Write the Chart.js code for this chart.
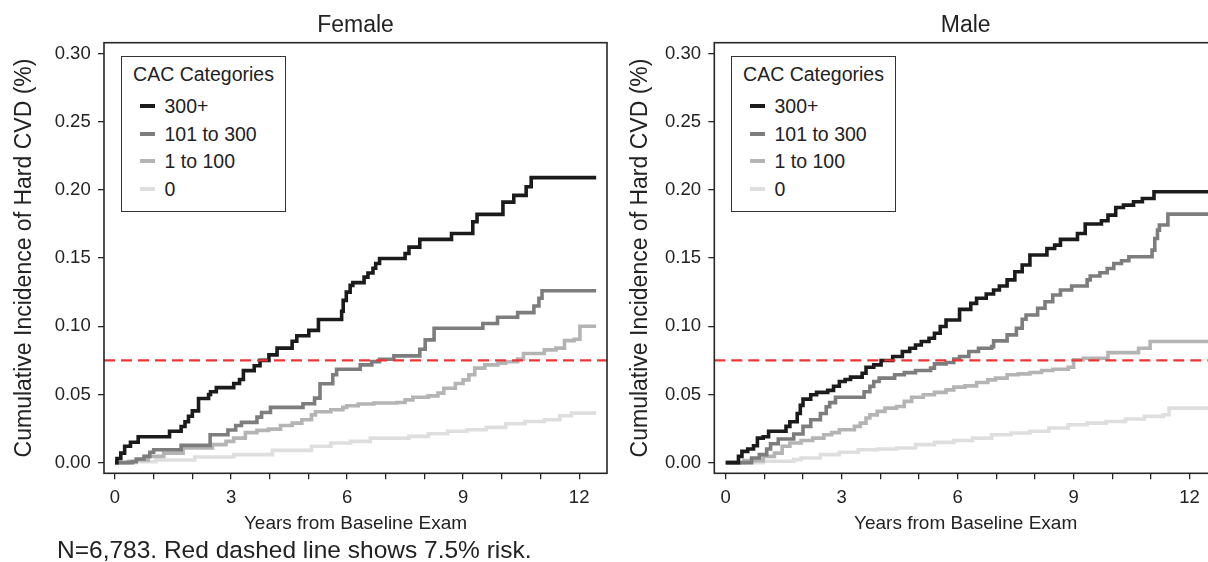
<!DOCTYPE html>
<html>
<head>
<meta charset="utf-8">
<title>Cumulative Incidence of Hard CVD by CAC category</title>
<script src="https://cdn.jsdelivr.net/npm/chart.js@4.4.1/dist/chart.umd.min.js"></script>
<style>
  html, body { margin: 0; padding: 0; background: #fff; width: 1208px; height: 562px; overflow: hidden; }
  body { position: relative; font-family: "Liberation Sans", Arial, Helvetica, sans-serif; color: #222; }
  .panel { position: absolute; top: 0; width: 610px; height: 562px; }
  #femalePanel { left: 0; }
  #malePanel { left: 610px; }
  .legend { position: absolute; left: 121px; top: 56px; width: 165px; height: 156px; box-sizing: border-box;
            border: 1.5px solid #333; background: #fff; font-size: 19.5px; }
  .legend .ttl { position: absolute; left: 0; right: 0; top: 2.5px; line-height: 28px; text-align: center; }
  .legend .row { position: absolute; left: 0; right: 0; height: 28px; line-height: 28px; white-space: nowrap; }
  .legend .swatch { position: absolute; left: 17.5px; top: 12px; width: 15px; height: 4px; }
  .legend .lbl { position: absolute; left: 42.5px; }
  .note { position: absolute; left: 57px; top: 538.3px; font-size: 24.5px; line-height: 24.5px; white-space: nowrap; }
</style>
</head>
<body>
<div class="panel" id="femalePanel"><canvas id="femaleChart" width="610" height="562"></canvas></div>
<div class="panel" id="malePanel"><canvas id="maleChart" width="610" height="562"></canvas></div>
<div class="note">N=6,783. Red dashed line shows 7.5% risk.</div>

<script>
// ---- data: [years, cumulative incidence] at each step ----
const categories = ['300+', '101 to 300', '1 to 100', '0'];
const panelTitles = ['Female', 'Male'];
const xTickValues = [0, 1, 2, 3, 4, 5, 6, 7, 8, 9, 10, 11, 12];
const xLabelEvery = 3;
const yTickValues = [0, 0.05, 0.10, 0.15, 0.20, 0.25, 0.30];
const riskLine = 0.075;

const female300 = [
  [0, 0], [0.05, 0.003], [0.15, 0.007], [0.25, 0.012], [0.4, 0.015], [0.6, 0.019],
  [1.41, 0.023], [1.71, 0.0265], [1.81, 0.030], [1.9, 0.034], [2.0, 0.038], [2.16, 0.047],
  [2.42, 0.050], [2.47, 0.052], [2.62, 0.055], [3.07, 0.058], [3.22, 0.061], [3.32, 0.0675],
  [3.6, 0.071], [3.75, 0.075], [3.98, 0.079], [4.19, 0.084], [4.58, 0.089], [4.7, 0.093],
  [5.01, 0.097], [5.26, 0.105], [5.86, 0.111], [5.9, 0.119], [5.98, 0.125], [6.08, 0.130],
  [6.15, 0.132], [6.44, 0.136], [6.54, 0.139], [6.67, 0.1425], [6.74, 0.146], [6.84, 0.1497],
  [7.5, 0.1534], [7.6, 0.158], [7.88, 0.1637], [8.7, 0.168], [9.25, 0.1766], [9.36, 0.182],
  [10.03, 0.191], [10.31, 0.196], [10.63, 0.2023], [10.76, 0.209], [12.44, 0.209]
];
const female101 = [
  [0, 0], [0.45, 0.0007], [0.55, 0.0027], [0.75, 0.0046], [0.9, 0.0076], [1.0, 0.0095],
  [1.71, 0.0127], [2.46, 0.0205], [2.92, 0.024], [3.12, 0.0273], [3.27, 0.0295], [3.67, 0.0334],
  [3.79, 0.0368], [4.02, 0.0405], [4.86, 0.0432], [5.16, 0.0473], [5.3, 0.0578], [5.63, 0.0644],
  [5.73, 0.0685], [6.34, 0.0717], [6.64, 0.0741], [6.84, 0.0758], [7.21, 0.0783], [7.88, 0.0832],
  [8.02, 0.090], [8.25, 0.0985], [9.51, 0.102], [9.89, 0.1066], [10.41, 0.110], [10.83, 0.1149],
  [10.96, 0.1205], [11.04, 0.126], [12.44, 0.126]
];
const female1 = [
  [0, 0], [0.35, 0.001], [0.55, 0.002], [0.86, 0.0046], [1.26, 0.007], [1.76, 0.0107],
  [2.52, 0.0132], [2.87, 0.0156], [3.07, 0.018], [3.37, 0.022], [3.67, 0.0237], [3.97, 0.0246],
  [4.28, 0.0273], [4.58, 0.029], [4.83, 0.0315], [5.08, 0.035], [5.18, 0.0373], [5.58, 0.0388],
  [5.89, 0.0405], [5.99, 0.0417], [6.29, 0.043], [6.69, 0.0437], [7.29, 0.0441], [7.5, 0.046],
  [7.7, 0.048], [8.1, 0.049], [8.35, 0.051], [8.5, 0.0546], [8.8, 0.058], [9.0, 0.0607],
  [9.15, 0.0644], [9.3, 0.0693], [9.56, 0.0717], [9.9, 0.073], [10.1, 0.074], [10.41, 0.0759],
  [10.56, 0.080], [11.1, 0.0827], [11.4, 0.084], [11.62, 0.0895], [11.87, 0.0905], [12.02, 0.100],
  [12.44, 0.100]
];
const female0 = [
  [0, 0], [0.55, 0.0007], [1.06, 0.002], [2.06, 0.0041], [3.07, 0.0059], [4.07, 0.009],
  [5.08, 0.012], [5.58, 0.0144], [6.09, 0.0156], [6.6, 0.018], [7.6, 0.0193], [8.1, 0.0212],
  [8.6, 0.023], [9.1, 0.0241], [9.6, 0.0259], [10.1, 0.0285], [10.6, 0.0302], [11.1, 0.0315],
  [11.5, 0.0344], [11.8, 0.0363], [12.44, 0.0363]
];

const male300 = [
  [0, 0], [0.33, 0.0046], [0.42, 0.0083], [0.57, 0.010], [0.72, 0.0124], [0.82, 0.018],
  [0.97, 0.019], [1.11, 0.023], [1.56, 0.0266], [1.66, 0.030], [1.85, 0.036], [1.93, 0.042],
  [2.0, 0.0466], [2.2, 0.0498], [2.35, 0.0515], [2.64, 0.053], [2.79, 0.056], [2.94, 0.0595],
  [3.09, 0.061], [3.23, 0.0627], [3.53, 0.0656], [3.63, 0.070], [3.83, 0.0717], [4.02, 0.0749],
  [4.32, 0.0778], [4.57, 0.0815], [4.76, 0.0839], [4.91, 0.0863], [5.06, 0.0888], [5.26, 0.0912],
  [5.4, 0.0949], [5.55, 0.0998], [5.7, 0.1046], [6.05, 0.1124], [6.34, 0.1168], [6.49, 0.1205],
  [6.74, 0.1237], [6.93, 0.1266], [7.08, 0.1295], [7.28, 0.134], [7.48, 0.140], [7.67, 0.1449],
  [7.87, 0.1522], [8.31, 0.157], [8.51, 0.1595], [8.66, 0.1637], [9.1, 0.168], [9.3, 0.175],
  [9.72, 0.1774], [9.89, 0.1815], [10.09, 0.1871], [10.29, 0.1888], [10.55, 0.1913],
  [10.78, 0.1937], [11.08, 0.1986], [12.5, 0.1986]
];
const male101 = [
  [0, 0], [0.67, 0.0034], [0.87, 0.0059], [1.06, 0.010], [1.16, 0.0139], [1.36, 0.0173],
  [1.76, 0.021], [2.0, 0.0266], [2.2, 0.0315], [2.45, 0.036], [2.6, 0.041], [2.69, 0.044],
  [2.84, 0.048], [3.58, 0.052], [3.73, 0.0559], [3.83, 0.0595], [3.97, 0.062], [4.37, 0.0644],
  [4.62, 0.066], [4.91, 0.0676], [5.3, 0.0693], [5.4, 0.0724], [5.7, 0.0734], [5.9, 0.0759],
  [6.05, 0.0778], [6.29, 0.0815], [6.54, 0.0839], [6.88, 0.0851], [6.93, 0.0893], [7.28, 0.0937],
  [7.52, 0.0985], [7.67, 0.1051], [7.77, 0.1083], [8.07, 0.1132], [8.26, 0.118], [8.46, 0.1229],
  [8.66, 0.1266], [8.95, 0.1295], [9.35, 0.134], [9.43, 0.1368], [9.68, 0.1392], [9.87, 0.1424],
  [10.04, 0.146], [10.24, 0.148], [10.43, 0.151], [11.03, 0.1558], [11.1, 0.1644], [11.17, 0.1705],
  [11.22, 0.1742], [11.44, 0.1822], [12.5, 0.1822]
];
const male1 = [
  [0, 0], [0.47, 0.0015], [0.97, 0.0046], [1.26, 0.007], [1.46, 0.012], [1.66, 0.0144],
  [1.95, 0.0163], [2.25, 0.018], [2.54, 0.0205], [2.74, 0.022], [2.94, 0.0241], [3.33, 0.0266],
  [3.48, 0.029], [3.63, 0.0327], [3.73, 0.035], [3.92, 0.0376], [4.12, 0.040], [4.42, 0.0412],
  [4.62, 0.0449], [4.81, 0.048], [5.11, 0.0498], [5.4, 0.0515], [5.7, 0.0534], [5.9, 0.0554],
  [6.19, 0.0563], [6.49, 0.0588], [6.78, 0.0607], [6.98, 0.062], [7.28, 0.0644], [7.57, 0.0651],
  [7.87, 0.0661], [8.17, 0.0676], [8.46, 0.0685], [8.86, 0.070], [9.0, 0.0754], [9.25, 0.0766],
  [9.89, 0.0807], [10.68, 0.0839], [10.98, 0.0888], [12.5, 0.0888]
];
const male0 = [
  [0, 0], [0.97, 0.001], [1.76, 0.0022], [1.95, 0.0034], [2.45, 0.0059], [2.94, 0.0076],
  [3.43, 0.0095], [3.92, 0.010], [4.42, 0.0107], [4.91, 0.0132], [5.4, 0.0149], [5.9, 0.0163],
  [6.39, 0.018], [6.88, 0.0205], [7.38, 0.0217], [7.87, 0.023], [8.36, 0.0254], [8.86, 0.0278],
  [9.35, 0.029], [9.84, 0.0302], [10.34, 0.032], [10.83, 0.0339], [11.32, 0.0351], [11.47, 0.040],
  [12.5, 0.040]
];

const femaleSeries = [female300, female101, female1, female0];
const maleSeries = [male300, male101, male1, male0];

// ---- styling ----
const lineColors = ['#1b1b1b', '#7d7d7d', '#b4b4b4', '#dedede'];
const riskColor = 'rgb(238, 52, 52)';
const inkColor = '#262626';
const fontFamily = '"Liberation Sans", Arial, Helvetica, sans-serif';

Chart.defaults.font.family = fontFamily;
Chart.defaults.color = '#222';

// box drawn around the plotting region, R style
const framePlugin = {
  id: 'frame',
  afterDatasetsDraw(chart) {
    const { ctx, chartArea: a } = chart;
    ctx.save();
    ctx.strokeStyle = inkColor;
    ctx.lineWidth = 1.6;
    ctx.strokeRect(a.left, a.top, a.right - a.left, a.bottom - a.top);
    ctx.restore();
  }
};

function buildLegend(panelId) {
  const box = document.createElement('div');
  box.className = 'legend';
  const ttl = document.createElement('div');
  ttl.className = 'ttl';
  ttl.textContent = 'CAC Categories';
  box.appendChild(ttl);
  const rowTops = [34.5, 62.5, 89.5, 117.5];
  categories.forEach((cat, i) => {
    const row = document.createElement('div');
    row.className = 'row';
    row.style.top = rowTops[i] + 'px';
    const sw = document.createElement('span');
    sw.className = 'swatch';
    sw.style.background = lineColors[i];
    const lbl = document.createElement('span');
    lbl.className = 'lbl';
    lbl.textContent = cat;
    row.appendChild(sw);
    row.appendChild(lbl);
    box.appendChild(row);
  });
  document.getElementById(panelId).appendChild(box);
}

function makePanel(canvasId, title, series, cfg) {
  const datasets = series.map((pts, i) => ({
    label: categories[i],
    data: pts.map(p => ({ x: p[0], y: p[1] })),
    borderColor: lineColors[i],
    borderWidth: 3.6,
    stepped: 'before',
    pointRadius: 0,
    fill: false,
    borderJoinStyle: 'miter',
    borderCapStyle: 'butt',
    order: i + 1
  }));
  datasets.push({
    label: '7.5% risk',
    data: [{ x: cfg.xMin, y: riskLine }, { x: cfg.xMax, y: riskLine }],
    borderColor: riskColor,
    borderWidth: 2.4,
    borderDash: [11, 6],
    pointRadius: 0,
    fill: false,
    order: 0
  });

  return new Chart(document.getElementById(canvasId).getContext('2d'), {
    type: 'line',
    data: { datasets },
    options: {
      responsive: false,
      animation: false,
      events: [],
      layout: { padding: { left: 0, right: 3, top: 0, bottom: 0 } },
      plugins: { legend: { display: false }, tooltip: { enabled: false }, title: { display: false } },
      scales: {
        x: {
          type: 'linear',
          position: 'bottom',
          min: cfg.xMin,
          max: cfg.xMax,
          afterBuildTicks: axis => { axis.ticks = xTickValues.map(v => ({ value: v })); },
          afterFit: axis => { axis.height = 562 - 473.3; },
          ticks: {
            autoSkip: false,
            maxRotation: 0,
            padding: 8,
            font: { size: 18.5 },
            color: '#222',
            callback: v => (v % xLabelEvery === 0 ? String(v) : '')
          },
          grid: { drawOnChartArea: false, drawTicks: true, tickLength: 6, color: inkColor, lineWidth: 1.3 },
          border: { display: false },
          title: {
            display: true,
            text: 'Years from Baseline Exam',
            font: { size: 19 },
            color: '#222',
            padding: { top: 0, bottom: 27.2 }
          }
        },
        xTop: {
          type: 'linear',
          position: 'top',
          afterFit: axis => { axis.height = 42.7; },
          ticks: { display: false },
          grid: { display: false },
          border: { display: false },
          title: {
            display: true,
            text: title,
            font: { size: 23 },
            color: '#222',
            padding: { top: 11.5, bottom: 0 }
          }
        },
        y: {
          type: 'linear',
          position: 'left',
          min: -0.0078,
          max: 0.3079,
          afterBuildTicks: axis => { axis.ticks = yTickValues.map(v => ({ value: v })); },
          afterFit: axis => { axis.width = cfg.yAxisWidth; },
          ticks: {
            autoSkip: false,
            padding: 7.3,
            font: { size: 18.5 },
            color: '#222',
            callback: v => v.toFixed(2)
          },
          grid: { drawOnChartArea: false, drawTicks: true, tickLength: 6, color: inkColor, lineWidth: 1.3 },
          border: { display: false },
          title: {
            display: true,
            text: 'Cumulative Incidence of Hard CVD (%)',
            font: { size: 23 },
            color: '#222',
            padding: { top: cfg.yTitlePad, bottom: 0 }
          }
        }
      }
    },
    plugins: [framePlugin]
  });
}

document.addEventListener('DOMContentLoaded', () => {
  makePanel('femaleChart', panelTitles[0], femaleSeries,
    { xMin: -0.284, xMax: 12.72, yAxisWidth: 104, yTitlePad: 11.2 });
  makePanel('maleChart', panelTitles[1], maleSeries,
    { xMin: -0.295, xMax: 12.71, yAxisWidth: 104.3, yTitlePad: 16.5 });
  buildLegend('femalePanel');
  buildLegend('malePanel');
});
</script>
</body>
</html>
